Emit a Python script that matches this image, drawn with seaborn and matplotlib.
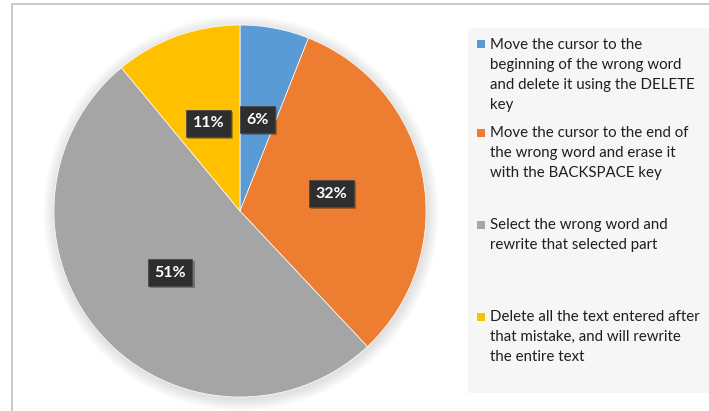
import matplotlib
matplotlib.use("Agg")
import matplotlib.pyplot as plt
import matplotlib.patheffects as pe
from matplotlib.patches import Rectangle, Circle
import seaborn as sns

# Survey answers: how people fix a typing mistake
categories = [
    "Move the cursor to the beginning of the wrong word and delete it using the DELETE key",
    "Move the cursor to the end of the wrong word and erase it with the BACKSPACE key",
    "Select the wrong word and rewrite that selected part",
    "Delete all the text entered after that mistake, and will rewrite the entire text",
]
shares = [6, 32, 51, 11]
legend_lines = [
    ["Move the cursor to the", "beginning of the wrong word",
     "and delete it using the DELETE", "key"],
    ["Move the cursor to the end of", "the wrong word and erase it",
     "with the BACKSPACE key"],
    ["Select the wrong word and", "rewrite that selected part"],
    ["Delete all the text entered after", "that mistake, and will rewrite",
     "the entire text"],
]
colors = ["#5B9BD5", "#ED7D31", "#A5A5A5", "#FFC000"]

sns.set_theme(style="white")
plt.rcParams["font.family"] = ["Lato", "DejaVu Sans"]

W, H = 709, 411
fig = plt.figure(figsize=(W / 100, H / 100), dpi=100)
fig.patch.set_facecolor("white")

# Background layer in pixel coordinates: frame and legend panel
bg = fig.add_axes([0, 0, 1, 1], zorder=0)
bg.set_xlim(0, W)
bg.set_ylim(H, 0)
bg.axis("off")
bg.plot([11.5, 11.5, W + 5], [H + 5, 4.5, 4.5], color="#c4c4c4", lw=1.3,
        solid_joinstyle="miter")
bg.add_patch(Rectangle((468, 28), W - 468 + 5, 365, facecolor="#f6f6f6",
                       edgecolor="none"))

# Soft glow around the pie
cx, cy, R = 240, 211, 186
for i in range(10):
    bg.add_patch(Circle((cx + 1, cy + 2), R + 1 + i * 1.2, facecolor="#000000",
                        edgecolor="none", alpha=0.012))

# Legend entries
first_line_y = [45, 133, 225, 317]
for col, lines, y0 in zip(colors, legend_lines, first_line_y):
    bg.add_patch(Rectangle((477, y0 - 4.5), 8, 8, facecolor=col,
                           edgecolor="none"))
    for k, line in enumerate(lines):
        bg.text(490, y0 + k * 20, line, fontsize=10.8, color="#1e1e1e",
                va="center", ha="left")

# Pie chart
ax = fig.add_axes([(cx - R) / W, (H - cy - R) / H, 2 * R / W, 2 * R / H],
                  zorder=1)
wedges, _, autotexts = ax.pie(
    shares, colors=colors, startangle=90, counterclock=False,
    autopct=lambda p: f"{p:.0f}%", pctdistance=0.5,
    wedgeprops=dict(edgecolor="white", linewidth=0.5),
    textprops=dict(color="white", fontsize=11.5, fontweight="bold"),
)
ax.set_xlim(-1, 1)
ax.set_ylim(-1, 1)
ax.set_aspect("equal")
ax.axis("off")

for t in autotexts:
    t.set_bbox(dict(boxstyle="square,pad=0.4", facecolor="#2e2e2e",
                    edgecolor="#4a4a4a", linewidth=0.6))
    t.get_bbox_patch().set_path_effects([
        pe.SimplePatchShadow(offset=(1.5, -1.5), shadow_rgbFace="black",
                             alpha=0.3),
        pe.Normal(),
    ])

fig.savefig("out.png", dpi=100, facecolor="white")
